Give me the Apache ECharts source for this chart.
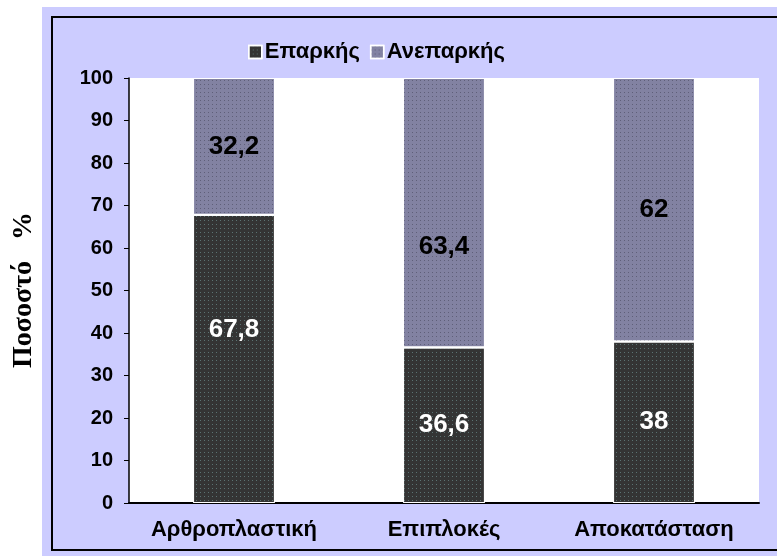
<!DOCTYPE html>
<html>
<head>
<meta charset="utf-8">
<script src="https://cdn.jsdelivr.net/npm/echarts@6/dist/echarts.min.js"></script>
<style>
  html, body { margin: 0; padding: 0; background: #fff; }
  #chart { width: 777px; height: 556px; }
</style>
</head>
<body>
<div id="chart"></div>
<script>
// κατηγορίες και τιμές (%)
const categories = ['Αρθροπλαστική', 'Επιπλοκές', 'Αποκατάσταση'];
const adequate = [67.8, 36.6, 38];
const inadequate = [32.2, 63.4, 62];
const seriesNames = ['Επαρκής', 'Ανεπαρκής'];

// μετατόπιση ετικετών όπως στο πρωτότυπο
const adequateLabelShift = [-29, 0, 0];
const inadequateLabelShift = [0, 34, 0];

const FONT = 'Liberation Sans, Arial, sans-serif';

function fmt(v) {
    return String(v).replace('.', ',');
}

const chart = echarts.init(document.getElementById('chart'));

const option = {
    animation: false,
    backgroundColor: '#fff',
    graphic: [
        {
            type: 'rect',
            z: -10,
            shape: { x: 42, y: 7, width: 735, height: 549 },
            style: { fill: '#ccccff' }
        },
        {
            type: 'rect',
            z: -9,
            shape: { x: 52, y: 17, width: 800, height: 533 },
            style: { fill: 'none', stroke: '#000', lineWidth: 2 }
        },
        {
            type: 'text',
            x: 24,
            y: 290,
            rotation: Math.PI / 2,
            style: {
                text: 'Ποσοστό   %',
                font: 'bold 28px "Liberation Serif", "DejaVu Serif", serif',
                fill: '#000',
                align: 'center',
                verticalAlign: 'middle'
            }
        }
    ],
    legend: {
        data: seriesNames,
        top: 36,
        left: 243,
        itemWidth: 13,
        itemHeight: 13,
        itemGap: 10,
        icon: 'rect',
        itemStyle: { borderColor: '#fff', borderWidth: 1.5 },
        textStyle: {
            fontFamily: FONT,
            fontWeight: 'bold',
            fontSize: 22,
            color: '#000',
            padding: [0, 0, 0, -2]
        }
    },
    grid: {
        left: 129,
        right: 18,
        top: 78,
        bottom: 53,
        show: true,
        backgroundColor: '#fff',
        borderWidth: 0
    },
    xAxis: {
        type: 'category',
        data: categories,
        axisLine: { lineStyle: { color: '#000', width: 2 } },
        axisTick: { show: false },
        axisLabel: {
            interval: 0,
            hideOverlap: false,
            margin: 16,
            fontFamily: FONT,
            fontWeight: 'bold',
            fontSize: 22,
            color: '#000'
        }
    },
    yAxis: {
        type: 'value',
        min: 0,
        max: 100,
        interval: 10,
        splitLine: { show: false },
        axisLine: { show: true, lineStyle: { color: '#000', width: 1.5 } },
        axisTick: { show: true, length: 5, lineStyle: { color: '#000' } },
        axisLabel: {
            margin: 16,
            fontFamily: FONT,
            fontWeight: 'bold',
            fontSize: 20,
            color: '#000'
        }
    },
    series: [
        {
            name: seriesNames[0],
            type: 'bar',
            stack: 'total',
            barWidth: '39%',
            itemStyle: {
                color: '#343434',
                borderColor: '#ffffff',
                borderWidth: 1,
                decal: {
                    symbol: 'rect',
                    symbolSize: 1,
                    dashArrayX: [1, 3],
                    dashArrayY: [1, 3],
                    color: 'rgba(140, 190, 190, 0.45)'
                }
            },
            label: {
                show: true,
                position: 'inside',
                formatter: p => fmt(p.value),
                fontFamily: FONT,
                fontWeight: 'bold',
                fontSize: 26,
                color: '#fff'
            },
            data: adequate.map((v, i) => ({ value: v, label: { offset: [0, adequateLabelShift[i]] } }))
        },
        {
            name: seriesNames[1],
            type: 'bar',
            stack: 'total',
            itemStyle: {
                color: '#8282a2',
                borderColor: '#ffffff',
                borderWidth: 1,
                decal: {
                    symbol: 'rect',
                    symbolSize: 1,
                    dashArrayX: [1, 3],
                    dashArrayY: [1, 3],
                    color: 'rgba(60, 60, 80, 0.5)'
                }
            },
            label: {
                show: true,
                position: 'inside',
                formatter: p => fmt(p.value),
                fontFamily: FONT,
                fontWeight: 'bold',
                fontSize: 26,
                color: '#000'
            },
            data: inadequate.map((v, i) => ({ value: v, label: { offset: [0, inadequateLabelShift[i]] } }))
        }
    ]
};

chart.setOption(option);

window.addEventListener('resize', () => {
    chart.resize();
});
</script>
</body>
</html>
